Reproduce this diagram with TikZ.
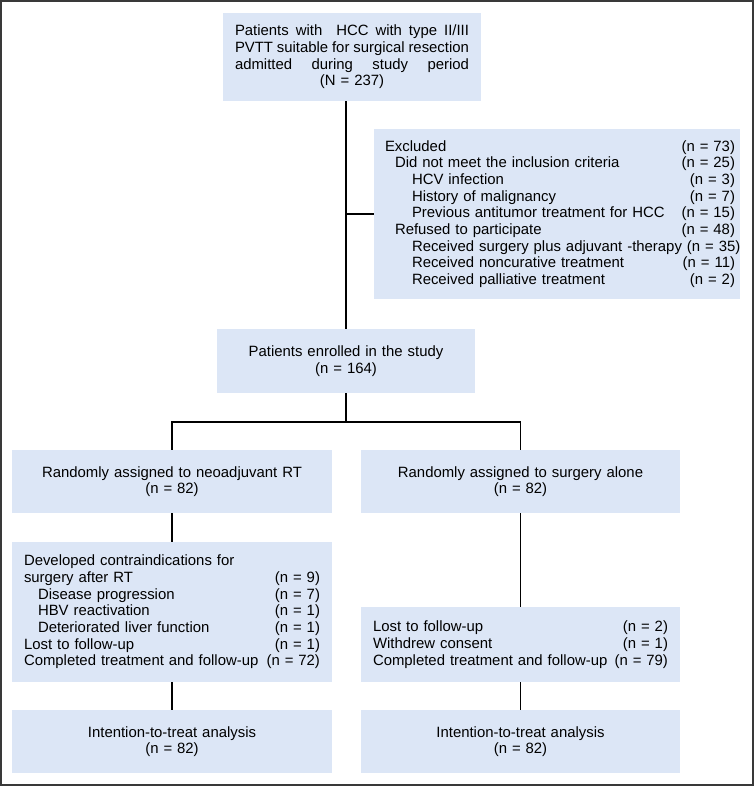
\documentclass[tikz,border=0pt]{standalone}
\usepackage{fontspec}
\setmainfont{Liberation Sans}
\definecolor{boxblue}{RGB}{220,230,246}
% one line of a box: indent, text, count on the right
\newcommand{\cntline}[3]{\makebox[\linewidth][l]{\hspace*{#1}#2\hfill\ (n = #3)}}
\newcommand{\fullline}[1]{\makebox[\linewidth][l]{#1}}

\begin{document}
\begin{tikzpicture}[x=1pt,y=-1pt,
  font=\fontsize{14.9}{16.7}\selectfont,
  box/.style={fill=boxblue,inner xsep=12pt,inner ysep=0pt,align=center},
  link/.style={line width=1.6pt}]
\useasboundingbox (0,0) rectangle (754,786);
% Frame
\draw[line width=2pt,gray!45!black] (1,1) rectangle (752.5,784.5);

% Screening
\node[box,text width=234pt,minimum height=88pt] (screen) at (352,57)
  {\fullline{Patients\hfill with\hfill\hfill HCC\hfill with\hfill type\hfill II/III}\\
   \fullline{PVTT\hfill suitable\hfill for\hfill surgical\hfill resection}\\
   \fullline{admitted\hfill during\hfill study\hfill period}\\
   (N = 237)};
\node[box,inner xsep=0pt,text width=350pt,minimum width=366pt,minimum height=170pt] (excl) at (557,214)
  {\hspace*{3pt}\parbox{350pt}{%
   \cntline{0pt}{Excluded}{73}\\
   \cntline{10pt}{Did not meet the inclusion criteria}{25}\\
   \cntline{27pt}{HCV infection}{3}\\
   \cntline{27pt}{History of malignancy}{7}\\
   \cntline{27pt}{Previous antitumor treatment for HCC}{15}\\
   \cntline{10pt}{Refused to participate}{48}\\
   \cntline{27pt}{Received surgery plus adjuvant -therapy}{35}\\
   \cntline{27pt}{Received noncurative treatment}{11}\\
   \cntline{27pt}{Received palliative treatment}{2}}\hspace*{-3pt}};
\node[box,text width=234pt,minimum height=64pt] (enrol) at (346,361)
  {Patients enrolled in the study\\(n = 164)};

% Arms
\node[box,text width=296pt,minimum height=63pt] (armRT) at (172,481.5)
  {Randomly assigned to neoadjuvant RT\\(n = 82)};
\node[box,text width=295pt,minimum height=63pt] (armSurg) at (520.5,481.5)
  {Randomly assigned to surgery alone\\(n = 82)};
\node[box,text width=296pt,minimum height=140pt] (followRT) at (172,612)
  {\makebox[\linewidth][l]{Developed contraindications for}\\
   \cntline{0pt}{surgery after RT}{9}\\
   \cntline{14pt}{Disease progression}{7}\\
   \cntline{14pt}{HBV reactivation}{1}\\
   \cntline{14pt}{Deteriorated liver function}{1}\\
   \cntline{0pt}{Lost to follow-up}{1}\\
   \cntline{0pt}{Completed treatment and follow-up}{72}};
\node[box,text width=295pt,minimum height=75pt] (followSurg) at (520.5,644.5)
  {\cntline{0pt}{Lost to follow-up}{2}\\
   \cntline{0pt}{Withdrew consent}{1}\\
   \cntline{0pt}{Completed treatment and follow-up}{79}};
\node[box,text width=296pt,minimum height=63pt] (ittRT) at (172,741.5)
  {Intention-to-treat analysis\\(n = 82)};
\node[box,text width=295pt,minimum height=63pt] (ittSurg) at (520.5,741.5)
  {Intention-to-treat analysis\\(n = 82)};

% Connectors
\coordinate (split) at (346,422);
\draw[link] (screen.south -| enrol.north) -- (enrol.north);
\draw[link] (enrol.north |- excl.west) -- (excl.west);
\draw[link] (enrol.south) -- (split);
\draw[link] (armRT.north) |- (split) -| (armSurg.north);
\draw[link] (armRT.south) -- (followRT.north);
\draw[link] (followRT.south) -- (ittRT.north);
\draw[link] (armSurg.south) -- (followSurg.north);
\draw[link] (followSurg.south) -- (ittSurg.north);
\end{tikzpicture}
\end{document}
